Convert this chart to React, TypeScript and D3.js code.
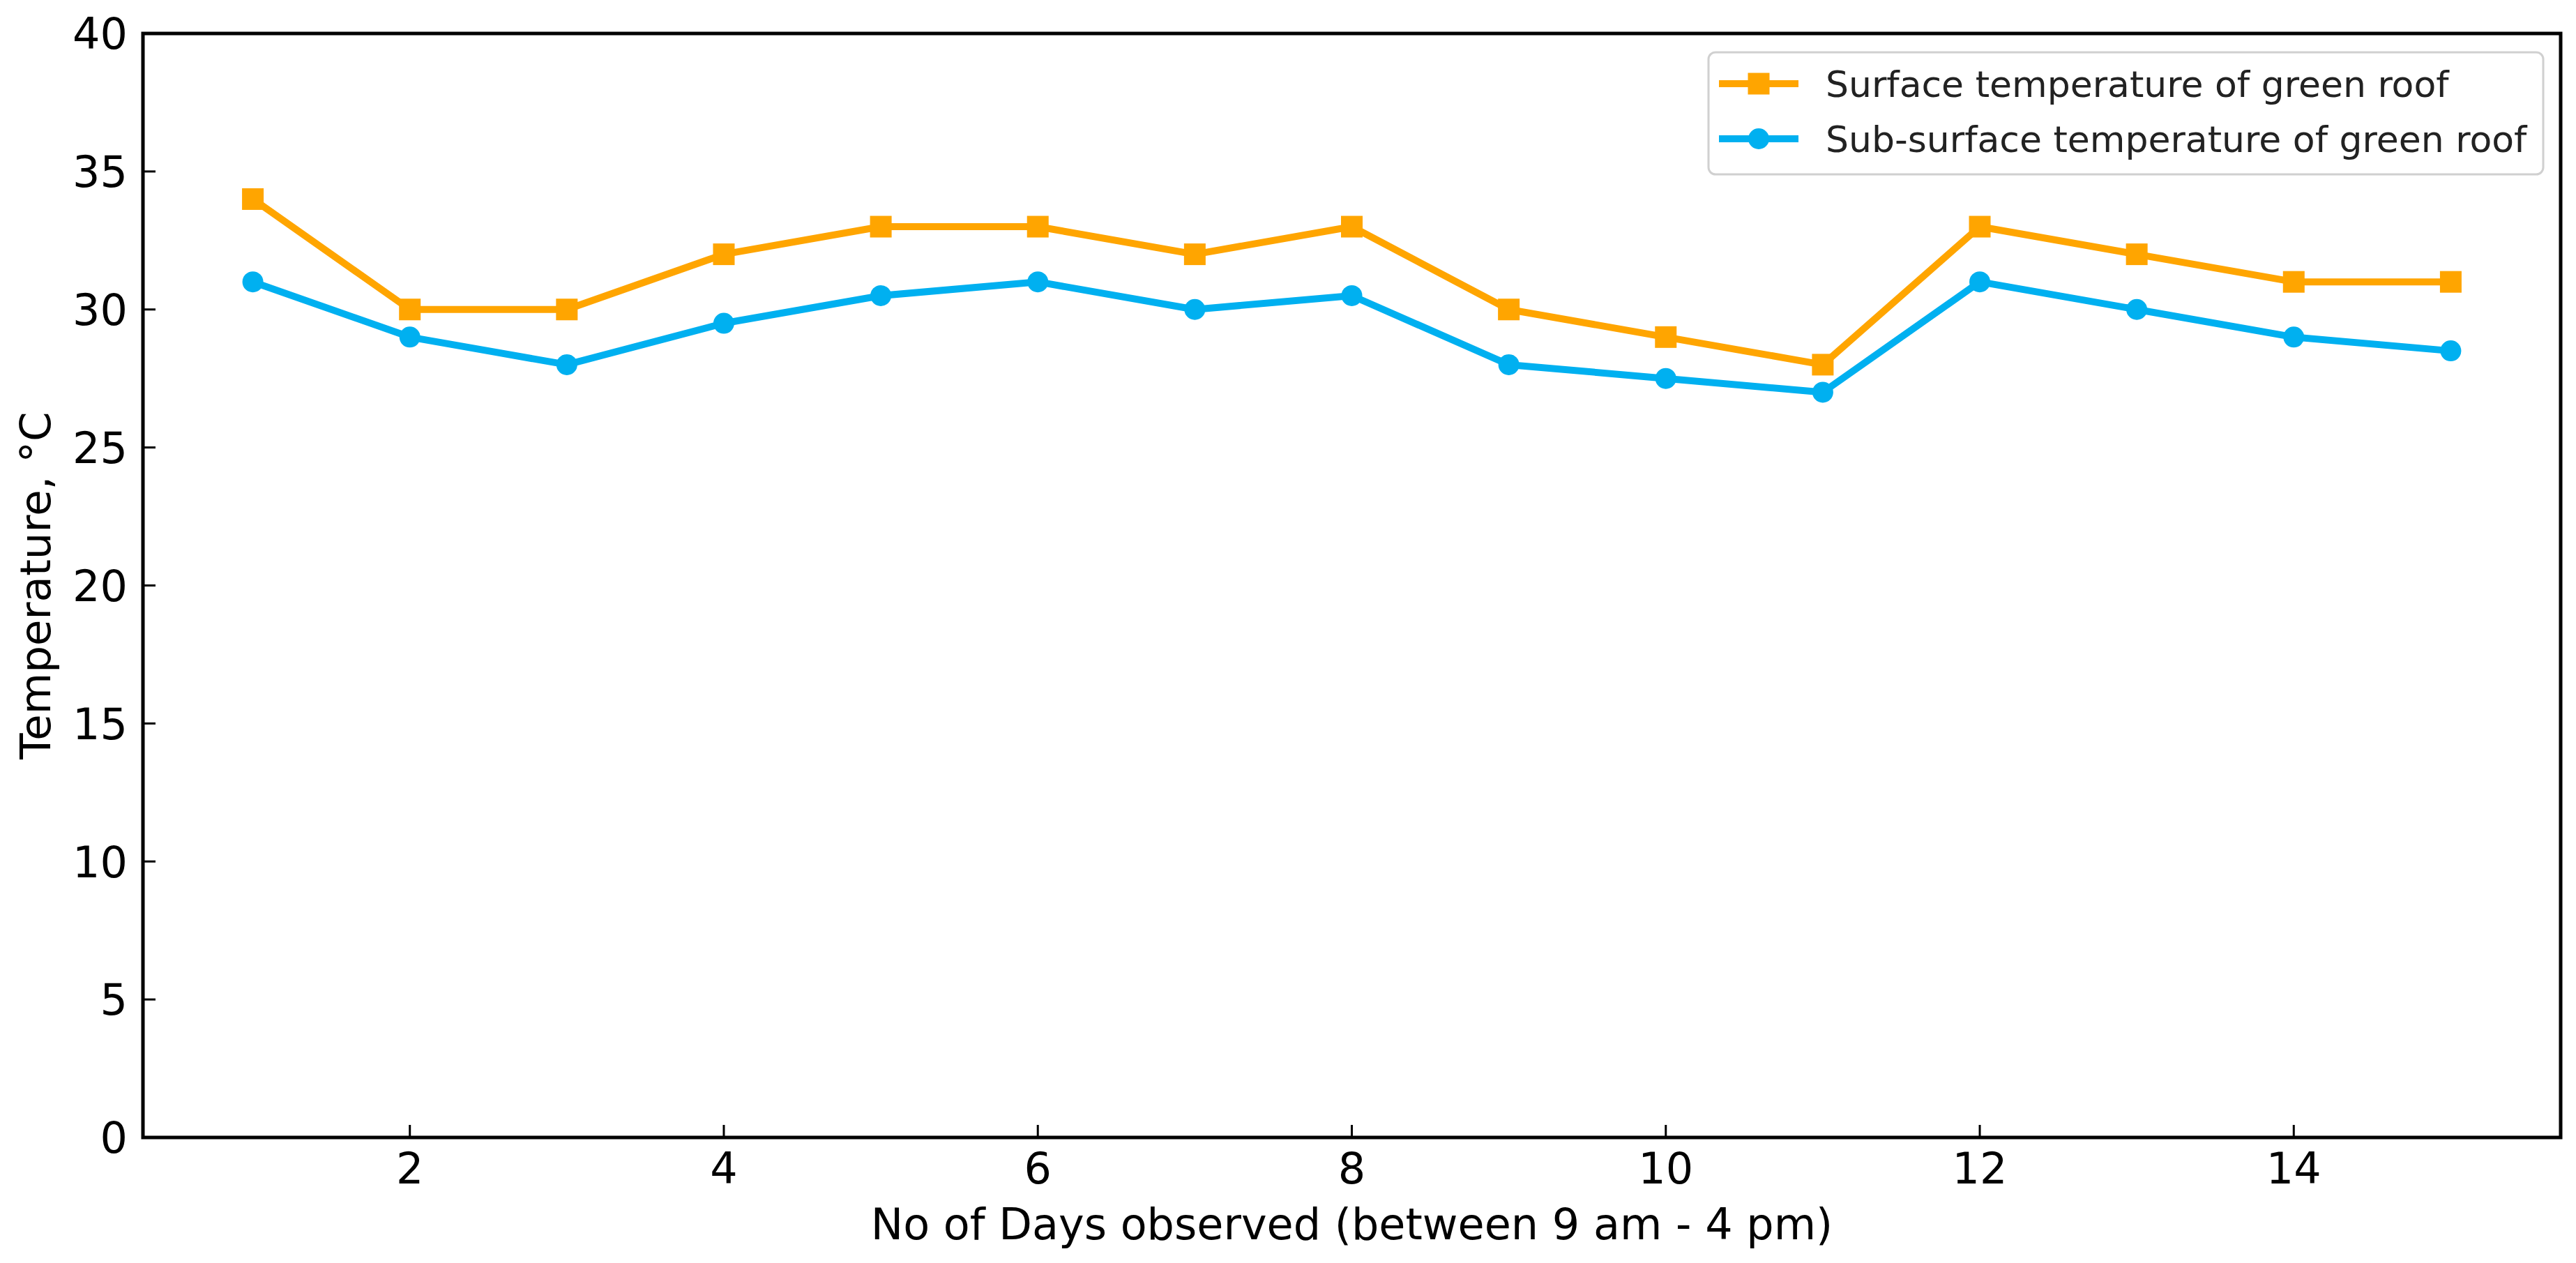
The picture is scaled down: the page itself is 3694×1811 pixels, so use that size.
import React from "react";
import * as d3 from "d3";

const days = [1, 2, 3, 4, 5, 6, 7, 8, 9, 10, 11, 12, 13, 14, 15];
const surfaceTemp = [34, 30, 30, 32, 33, 33, 32, 33, 30, 29, 28, 33, 32, 31, 31];
const subSurfaceTemp = [31, 29, 28, 29.5, 30.5, 31, 30, 30.5, 28, 27.5, 27, 31, 30, 29, 28.5];
const xTicks = [2, 4, 6, 8, 10, 12, 14];
const yTicks = [0, 5, 10, 15, 20, 25, 30, 35, 40];
const seriesNames = ["Surface temperature of green roof", "Sub-surface temperature of green roof"];
const xLabel = "No of Days observed (between 9 am - 4 pm)";
const yLabel = "Temperature, °C";

const W = 3694;
const H = 1811;
const L = 205, R = 3672, T = 48, B = 1631;
const ORANGE = "#FFA500";
const BLUE = "#00B0F0";
const FONT = "DejaVu Sans, sans-serif";

export default function App() {
  const x = d3.scaleLinear().domain([0.3, 15.7]).range([L, R]);
  const y = d3.scaleLinear().domain([0, 40]).range([B, T]);
  const line = d3
    .line<number>()
    .x((_, i) => x(days[i]))
    .y((d) => y(d));

  const sq = 31;
  const rad = 15;

  return (
    <svg
      width={W}
      height={H}
      viewBox={`0 0 ${W} ${H}`}
      style={{ position: "absolute", left: 0, top: 0, background: "#fff" }}
      fontFamily={FONT}
    >
      <rect x={0} y={0} width={W} height={H} fill="#fff" />
      {/* data lines */}
      <path d={line(surfaceTemp) || ""} fill="none" stroke={ORANGE} strokeWidth={10} strokeLinejoin="round" />
      {surfaceTemp.map((v, i) => (
        <rect key={"s" + i} x={x(days[i]) - sq / 2} y={y(v) - sq / 2} width={sq} height={sq} fill={ORANGE} />
      ))}
      <path d={line(subSurfaceTemp) || ""} fill="none" stroke={BLUE} strokeWidth={10} strokeLinejoin="round" />
      {subSurfaceTemp.map((v, i) => (
        <circle key={"b" + i} cx={x(days[i])} cy={y(v)} r={rad} fill={BLUE} />
      ))}

      {/* ticks */}
      {xTicks.map((t) => (
        <g key={"xt" + t}>
          <line x1={x(t)} x2={x(t)} y1={B} y2={B - 18} stroke="#000" strokeWidth={3} />
          <text x={x(t)} y={1697} textAnchor="middle" fontSize={62} fill="#000">
            {t}
          </text>
        </g>
      ))}
      {yTicks.map((t) => (
        <g key={"yt" + t}>
          <line x1={L} x2={L + 18} y1={y(t)} y2={y(t)} stroke="#000" strokeWidth={3} />
          <text x={183} y={y(t)} dy="0.36em" textAnchor="end" fontSize={62} fill="#000">
            {t}
          </text>
        </g>
      ))}

      {/* spines */}
      <rect x={L} y={T} width={R - L} height={B - T} fill="none" stroke="#000" strokeWidth={5} />

      {/* axis labels */}
      <text x={(L + R) / 2} y={1777} textAnchor="middle" fontSize={62} fill="#000">
        {xLabel}
      </text>
      <text
        transform={`translate(72, ${(T + B) / 2}) rotate(-90)`}
        textAnchor="middle"
        fontSize={61}
        fill="#000"
      >
        {yLabel}
      </text>

      {/* legend */}
      <rect x={2450} y={75} width={1197} height={175} rx={10} ry={10} fill="#fff" fillOpacity={0.8} stroke="#d0d0d0" strokeWidth={3} />
      <line x1={2465} x2={2579} y1={120} y2={120} stroke={ORANGE} strokeWidth={10} />
      <rect x={2522 - sq / 2} y={120 - sq / 2} width={sq} height={sq} fill={ORANGE} />
      <text x={2618} y={139} fontSize={52} fill="#222">
        {seriesNames[0]}
      </text>
      <line x1={2465} x2={2579} y1={199} y2={199} stroke={BLUE} strokeWidth={10} />
      <circle cx={2522} cy={199} r={rad} fill={BLUE} />
      <text x={2618} y={218} fontSize={52} fill="#222">
        {seriesNames[1]}
      </text>
    </svg>
  );
}
